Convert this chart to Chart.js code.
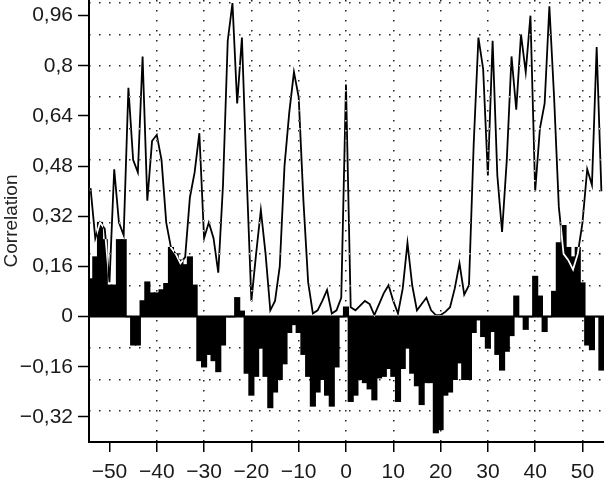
<!DOCTYPE html>
<html>
<head>
<meta charset="utf-8">
<script src="https://cdn.jsdelivr.net/npm/chart.js@4.4.1/dist/chart.umd.min.js"></script>
<style>
  html, body { margin: 0; padding: 0; background: #fff; }
</style>
</head>
<body>
<canvas id="corrChart" width="604" height="479"></canvas>
<script>
// lags del correlograma
const lags = [
  -54, -53, -52, -51, -50, -49, -48, -47, -46, -45,
  -44, -43, -42, -41, -40, -39, -38, -37, -36, -35,
  -34, -33, -32, -31, -30, -29, -28, -27, -26, -25,
  -24, -23, -22, -21, -20, -19, -18, -17, -16, -15,
  -14, -13, -12, -11, -10, -9, -8, -7, -6, -5,
  -4, -3, -2, -1, 0, 1, 2, 3, 4, 5,
  6, 7, 8, 9, 10, 11, 12, 13, 14, 15,
  16, 17, 18, 19, 20, 21, 22, 23, 24, 25,
  26, 27, 28, 29, 30, 31, 32, 33, 34, 35,
  36, 37, 38, 39, 40, 41, 42, 43, 44, 45,
  46, 47, 48, 49, 50, 51, 52, 53, 54
];

// barras negras (correlación cruzada)
const barValues = [
  0.12, 0.19, 0.30, 0.245, 0.10, 0.10, 0.245, 0.245, 0, -0.09,
  -0.09, 0.05, 0.11, 0.075, 0.075, 0.085, 0.105, 0.22, 0.20, 0.18,
  0.165, 0.19, 0.10, -0.14, -0.16, -0.12, -0.14, -0.175, -0.09, 0,
  0, 0.06, 0.017, -0.18, -0.25, -0.19, -0.10, -0.19, -0.29, -0.24,
  -0.20, -0.15, -0.05, -0.025, -0.05, -0.12, -0.19, -0.285, -0.24, -0.20,
  -0.25, -0.285, -0.16, 0, 0.03, -0.27, -0.25, -0.20, -0.21, -0.23,
  -0.265, -0.195, -0.19, -0.165, -0.19, -0.27, -0.165, -0.10, -0.18, -0.22,
  -0.28, -0.21, -0.21, -0.37, -0.36, -0.25, -0.24, -0.20, -0.147, -0.20,
  -0.20, -0.05, -0.01, -0.063, -0.10, -0.047, -0.12, -0.17, -0.11, -0.06,
  0.065, 0, -0.04, 0, 0.128, 0.065, -0.047, 0, 0.08, 0.235,
  0.29, 0.22, 0.19, 0.22, 0.107, -0.09, -0.105, 0, -0.17
];

// curva (autocorrelación)
const lineValues = [
  0.41, 0.25, 0.30, 0.28, 0.11, 0.47, 0.30, 0.26, 0.73, 0.50,
  0.46, 0.83, 0.37, 0.56, 0.58, 0.50, 0.30, 0.22, 0.20, 0.17,
  0.19, 0.38, 0.46, 0.585, 0.25, 0.30, 0.25, 0.14, 0.42, 0.88,
  1.00, 0.68, 0.89, 0.45, 0.05, 0.20, 0.34, 0.20, 0.02, 0.05,
  0.16, 0.48, 0.65, 0.78, 0.70, 0.37, 0.11, 0.01, 0.02, 0.05,
  0.085, 0.01, 0.02, 0.06, 0.74, 0.03, 0.02, 0.035, 0.05, 0.04,
  0.005, 0.04, 0.075, 0.10, 0.05, 0.01, 0.09, 0.235, 0.10, 0.02,
  0.04, 0.06, 0.02, 0.005, 0.005, 0.015, 0.03, 0.09, 0.17, 0.07,
  0.10, 0.55, 0.89, 0.79, 0.45, 0.88, 0.45, 0.27, 0.50, 0.83,
  0.66, 0.90, 0.78, 0.96, 0.40, 0.60, 0.68, 0.99, 0.70, 0.35,
  0.20, 0.18, 0.15, 0.20, 0.30, 0.47, 0.42, 0.86, 0.40
];

const xTicks = [-50, -40, -30, -20, -10, 0, 10, 20, 30, 40, 50];
const yTicks = [-0.32, -0.16, 0, 0.16, 0.32, 0.48, 0.64, 0.8, 0.96];
const yGridLines = [-0.3, -0.2, -0.1, 0.1, 0.2, 0.3, 0.4, 0.5, 0.6, 0.7, 0.8, 0.9, 1.0];

const FONT = "'Liberation Sans', Arial, sans-serif";

// "0,16" con coma decimal y signo menos tipográfico
function fmt(v) {
    return String(Math.round(v * 100) / 100).replace('.', ',').replace('-', '\u2212');
}

// fondo blanco, línea del cero y la curva invertida sobre las barras
const drawHelpers = {
    id: 'drawHelpers',
    beforeDraw(chart) {
        const c = chart.ctx;
        c.save();
        c.fillStyle = '#fff';
        c.fillRect(0, 0, chart.width, chart.height);
        c.restore();
    },
    beforeDatasetsDraw(chart) {
        const c = chart.ctx;
        const area = chart.chartArea;
        const y0 = chart.scales.y.getPixelForValue(0);
        c.save();
        c.strokeStyle = '#000';
        c.lineWidth = 2;
        c.beginPath();
        c.moveTo(area.left, y0);
        c.lineTo(area.right, y0);
        c.stroke();
        c.restore();
    },
    beforeDatasetDraw(chart, args) {
        if (args.meta.type === 'line') {
            chart.ctx.save();
            chart.ctx.globalCompositeOperation = 'difference';
        }
    },
    afterDatasetDraw(chart, args) {
        if (args.meta.type === 'line') {
            chart.ctx.restore();
        }
    }
};

const ctx = document.getElementById('corrChart').getContext('2d');

new Chart(ctx, {
    type: 'bar',
    data: {
        datasets: [{
            type: 'bar',
            data: lags.map((l, i) => ({ x: l, y: barValues[i] })),
            backgroundColor: '#000',
            borderWidth: 0,
            barPercentage: 1,
            categoryPercentage: 1,
            inflateAmount: 0.7,
            order: 2
        }, {
            type: 'line',
            data: lags.map((l, i) => ({ x: l, y: lineValues[i] })),
            borderColor: '#fff',
            borderWidth: 1.8,
            pointRadius: 0,
            tension: 0,
            fill: false,
            order: 1
        }]
    },
    options: {
        responsive: false,
        animation: false,
        layout: { padding: 0 },
        plugins: {
            legend: { display: false },
            tooltip: { enabled: false }
        },
        scales: {
            x: {
                type: 'linear',
                min: -54.33,
                max: 54.55,
                offset: false,
                afterBuildTicks: (scale) => { scale.ticks = xTicks.map(v => ({ value: v })); },
                afterFit: (scale) => {
                    scale.height = 37;
                    scale.paddingLeft = 0;
                    scale.paddingRight = 0;
                },
                ticks: {
                    autoSkip: false,
                    maxRotation: 0,
                    padding: 8,
                    color: '#1a1a1a',
                    font: { family: FONT, size: 21 },
                    callback: (v) => fmt(v)
                },
                grid: {
                    offset: false,
                    color: (c) => (c.tick && c.tick.value === -50) ? 'rgba(0,0,0,0)' : '#222',
                    lineWidth: 1.5,
                    tickColor: '#000',
                    tickLength: 10,
                    tickWidth: 1.5
                },
                border: { display: true, color: '#000', width: 2, dash: [1.5, 8.5] }
            },
            y: {
                type: 'linear',
                position: 'left',
                min: -0.4,
                max: 1.01,
                afterBuildTicks: (scale) => { scale.ticks = yTicks.map(v => ({ value: v })); },
                afterFit: (scale) => {
                    scale.width = 89;
                    scale.paddingTop = 0;
                    scale.paddingBottom = 0;
                },
                ticks: {
                    autoSkip: false,
                    padding: 5,
                    color: '#1a1a1a',
                    font: { family: FONT, size: 21 },
                    callback: (v) => fmt(v)
                },
                grid: {
                    drawOnChartArea: false,
                    tickColor: '#000',
                    tickLength: 11,
                    tickWidth: 1.5
                },
                border: { display: true, color: '#000', width: 2 },
                title: {
                    display: true,
                    text: 'Correlation',
                    color: '#222',
                    font: { family: FONT, size: 19 },
                    padding: { top: 0, bottom: 0 }
                }
            },
            yGrid: {
                type: 'linear',
                position: 'left',
                min: -0.4,
                max: 1.01,
                afterBuildTicks: (scale) => { scale.ticks = yGridLines.map(v => ({ value: v })); },
                afterFit: (scale) => {
                    scale.width = 0;
                    scale.paddingTop = 0;
                    scale.paddingBottom = 0;
                },
                ticks: { display: false },
                grid: {
                    drawTicks: false,
                    color: '#222',
                    lineWidth: 1.5
                },
                border: { display: false, dash: [1.5, 8.5] }
            }
        }
    },
    plugins: [drawHelpers]
});
</script>
</body>
</html>
